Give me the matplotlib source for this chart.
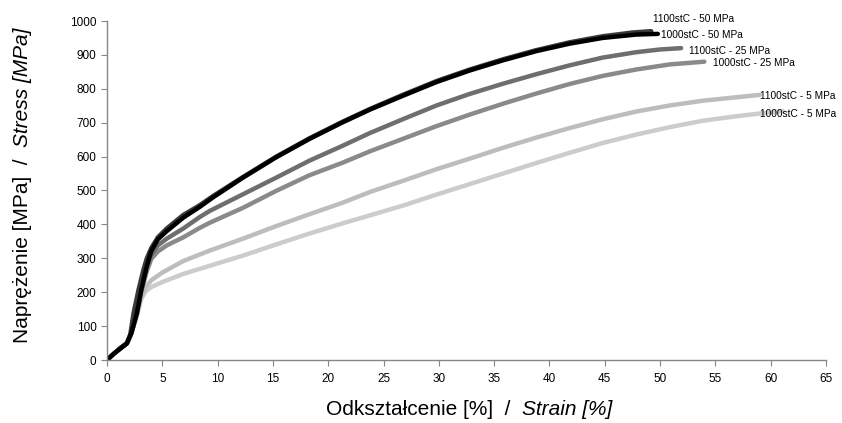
import matplotlib
matplotlib.use("Agg")
import matplotlib.pyplot as plt

plt.rcParams['font.family'] = ['Liberation Sans', 'DejaVu Sans']

# ---- data (strain %, stress MPa) ----
s_1100_50 = [0, 0.6, 1.2, 1.8, 2.1, 2.4, 2.85, 3.3, 3.6, 4.0, 4.6, 5.4, 6.9, 8.4, 9.6, 12.3, 15.3, 18.3,
             21.3, 23.8, 26.8, 29.8, 32.8, 35.8, 38.8, 41.8, 44.8, 47.5, 49.2]
y_1100_50 = [0, 18, 35, 50, 75, 138, 207, 267, 300, 330, 362, 388, 428, 457, 484, 540, 600, 654,
             703, 741, 783, 823, 857, 887, 914, 937, 955, 966, 970]

s_1000_50 = [0, 0.6, 1.2, 1.8, 2.2, 2.7, 3.1, 3.6, 4.0, 4.6, 5.4, 6.9, 8.4, 9.6, 12.3, 15.3, 18.3,
             21.3, 23.8, 26.8, 29.8, 32.8, 35.8, 38.8, 41.8, 44.8, 47.85, 49.8]
y_1000_50 = [0, 18, 33, 49, 79, 138, 207, 277, 321, 356, 380, 420, 452, 480, 538, 598, 652,
             701, 739, 780, 820, 854, 884, 911, 933, 950, 960, 962]

s_1100_25 = [0, 0.6, 1.2, 1.8, 2.2, 2.7, 3.1, 3.6, 4.0, 4.6, 5.4, 6.9, 8.4, 9.3, 12.3, 15.3, 18.3,
             21.3, 23.8, 26.8, 29.8, 32.8, 35.8, 38.8, 41.8, 44.8, 47.85, 50.0, 51.9]
y_1100_25 = [0, 18, 35, 49, 79, 138, 207, 272, 310, 338, 358, 388, 422, 440, 489, 538, 588,
             632, 670, 711, 751, 785, 815, 843, 869, 892, 908, 916, 920]

s_1000_25 = [0, 0.6, 1.2, 1.8, 2.2, 2.7, 3.1, 3.6, 4.0, 4.6, 5.4, 6.9, 8.4, 9.3, 12.3, 15.3, 18.3,
             21.3, 23.8, 26.8, 29.8, 32.8, 35.8, 38.8, 41.8, 44.8, 47.85, 50.9, 54.0]
y_1000_25 = [0, 18, 35, 49, 79, 136, 203, 262, 298, 320, 338, 362, 390, 405, 449, 499, 545,
             582, 616, 653, 690, 724, 756, 786, 814, 838, 857, 872, 880]

s_1100_5 = [0, 0.6, 1.2, 1.8, 2.2, 2.7, 3.1, 3.5, 4.0, 5.0, 6.9, 9.3, 12.3, 15.3, 18.3, 21.3, 23.8,
            26.8, 29.8, 32.8, 35.8, 38.8, 41.8, 44.8, 47.85, 50.9, 53.9, 56.9, 59.0]
y_1100_5 = [0, 18, 35, 49, 79, 135, 185, 215, 235, 258, 292, 323, 358, 395, 430, 464, 496,
            529, 563, 594, 626, 656, 684, 710, 733, 751, 765, 775, 782]

s_1000_5 = [0, 0.6, 1.2, 1.8, 2.2, 2.7, 3.1, 3.5, 4.0, 5.0, 6.9, 9.3, 12.3, 15.3, 18.3, 21.3, 23.8,
            26.8, 29.8, 32.8, 35.8, 38.8, 41.8, 44.8, 47.85, 50.9, 53.9, 56.9, 59.0, 61.1]
y_1000_5 = [0, 18, 35, 49, 79, 130, 180, 203, 215, 230, 254, 278, 308, 341, 373, 403, 427,
            456, 488, 519, 550, 581, 611, 640, 665, 687, 706, 719, 727, 734]

labels = ["1100stC - 50 MPa", "1000stC - 50 MPa", "1100stC - 25 MPa",
          "1000stC - 25 MPa", "1100stC - 5 MPa", "1000stC - 5 MPa"]
label_x = [49.35, 50.05, 52.6, 54.8, 59.0, 59.0]
label_y = [1005, 959, 912, 875, 779, 725]

series = [(s_1000_5, y_1000_5, '#cccccc'),
          (s_1100_5, y_1100_5, '#bdbdbd'),
          (s_1000_25, y_1000_25, '#8a8a8a'),
          (s_1100_25, y_1100_25, '#6e6e6e'),
          (s_1100_50, y_1100_50, '#3a3a3a'),
          (s_1000_50, y_1000_50, '#000000')]

x_ticks = list(range(0, 70, 5))
y_ticks = list(range(0, 1100, 100))

W, H = 842, 423
fig = plt.figure(figsize=(W / 100, H / 100), dpi=100)
ax = fig.add_axes([107 / W, 1 - 360 / H, (826 - 107) / W, (360 - 21) / H])

for sx, sy, c in series:
    ax.plot(sx, sy, color=c, lw=3.2, solid_capstyle='round', solid_joinstyle='round')

for t, lx, ly in zip(labels, label_x, label_y):
    ax.text(lx, ly, t, fontsize=7.3, ha='left', va='center', color='black')

ax.set_xlim(0, 65)
ax.set_ylim(0, 1000)
ax.set_xticks(x_ticks)
ax.set_yticks(y_ticks)
for sp in ['top', 'right']:
    ax.spines[sp].set_visible(False)
for sp in ['left', 'bottom']:
    ax.spines[sp].set_color('#868686')
    ax.spines[sp].set_linewidth(1.0)
ax.tick_params(direction='out', length=4, color='#868686', labelsize=8.5)
ax.tick_params(axis='x', pad=5)

# ---- mixed-style axis labels ----
FS = 15
renderer = fig.canvas.get_renderer()

# x label
xa = fig.text(0, 0, "Odkształcenie [%]  /  ", fontsize=FS, ha='left', va='baseline')
xb = fig.text(0, 0, "Strain [%]", fontsize=FS, style='italic', ha='left', va='baseline')
wa = xa.get_window_extent(renderer).width
wb = xb.get_window_extent(renderer).width
cx = 469.5
x0 = cx - (wa + wb) / 2
base_y = 8
xa.set_position((x0 / W, base_y / H))
xb.set_position(((x0 + wa) / W, base_y / H))

# y label (rotated)
ya = fig.text(0, 0, "Naprężenie [MPa]  /  ", fontsize=FS, rotation=90,
              rotation_mode='anchor', ha='left', va='baseline')
yb = fig.text(0, 0, "Stress [MPa]", fontsize=FS, style='italic', rotation=90,
              rotation_mode='anchor', ha='left', va='baseline')
ha_ = ya.get_window_extent(renderer).height
hb_ = yb.get_window_extent(renderer).height
cy = H - 185
y0 = cy - (ha_ + hb_) / 2
base_x = 28
ya.set_position((base_x / W, y0 / H))
yb.set_position((base_x / W, (y0 + ha_) / H))

fig.savefig("out.png", dpi=100)
